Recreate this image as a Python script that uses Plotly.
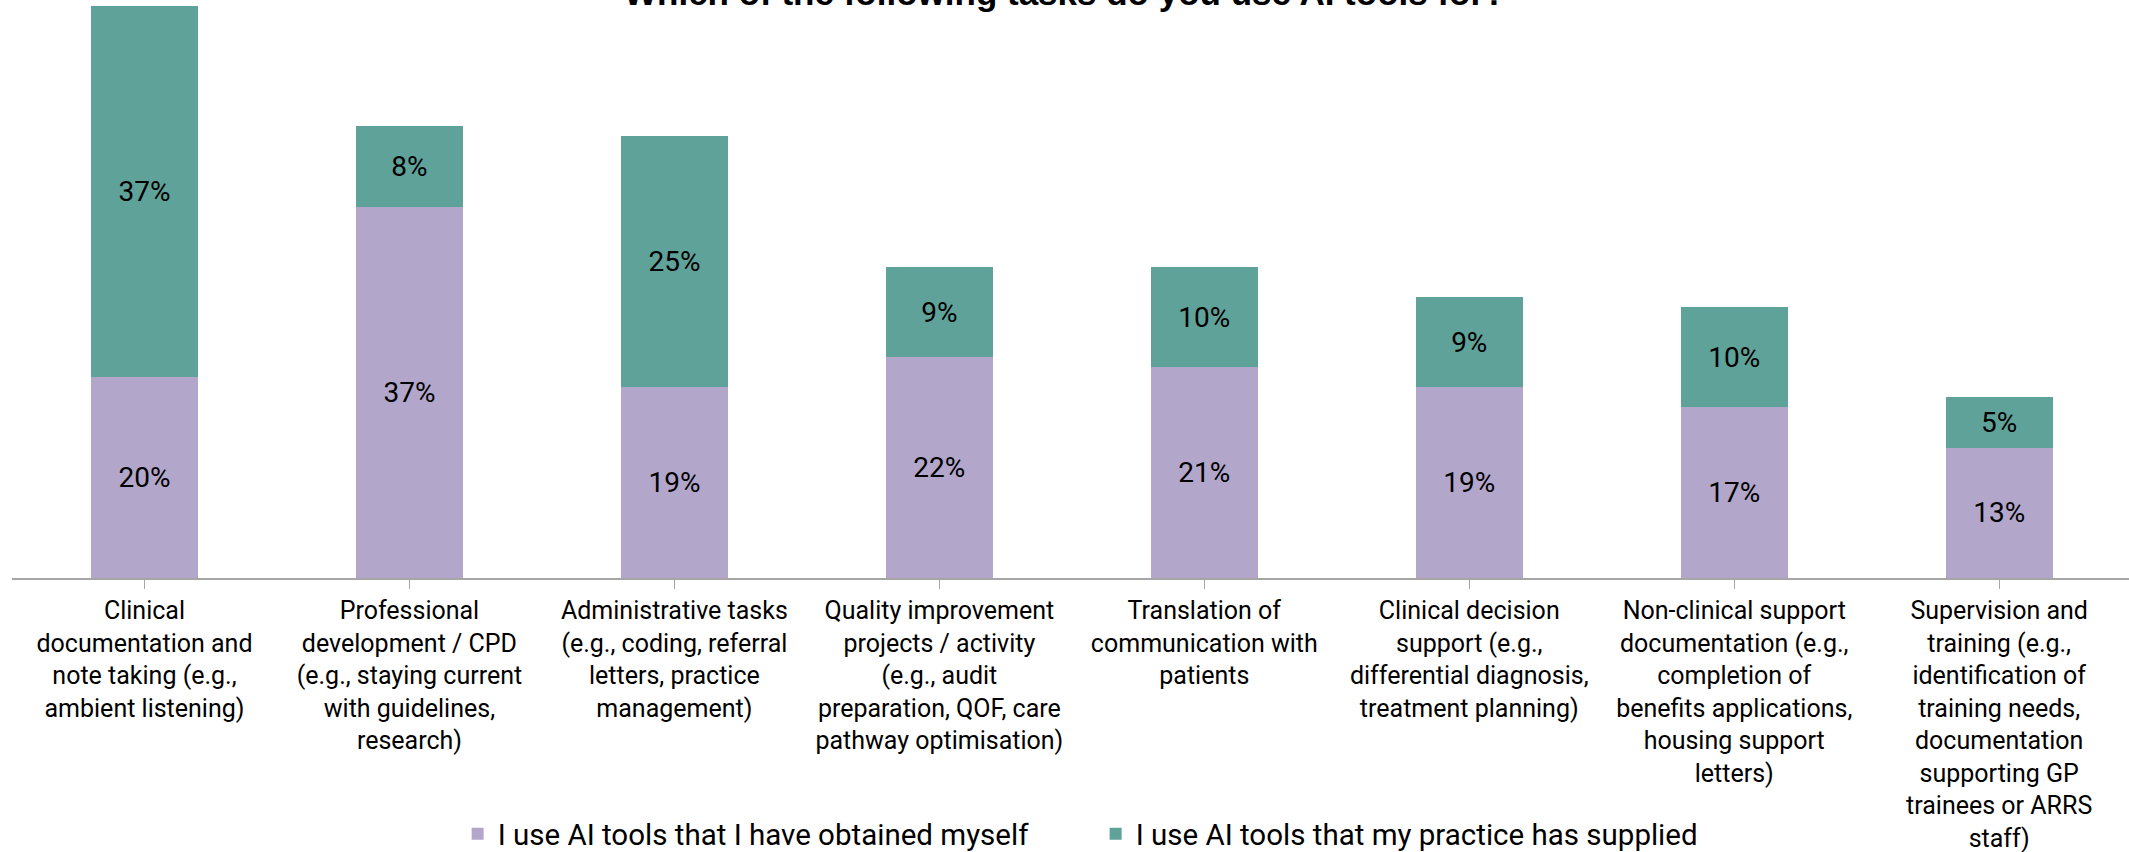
import plotly.graph_objects as go

categories = [
    "Clinical<br>documentation and<br>note taking (e.g.,<br>ambient listening)",
    "Professional<br>development / CPD<br>(e.g., staying current<br>with guidelines,<br>research)",
    "Administrative tasks<br>(e.g., coding, referral<br>letters, practice<br>management)",
    "Quality improvement<br>projects / activity<br>(e.g., audit<br>preparation, QOF, care<br>pathway optimisation)",
    "Translation of<br>communication with<br>patients",
    "Clinical decision<br>support (e.g.,<br>differential diagnosis,<br>treatment planning)",
    "Non-clinical support<br>documentation (e.g.,<br>completion of<br>benefits applications,<br>housing support<br>letters)",
    "Supervision and<br>training (e.g.,<br>identification of<br>training needs,<br>documentation<br>supporting GP<br>trainees or ARRS<br>staff)",
]
obtained_myself = [20, 37, 19, 22, 21, 19, 17, 13]
practice_supplied = [37, 8, 25, 9, 10, 9, 10, 5]
series_names = ["I use AI tools that I have obtained myself",
                "I use AI tools that my practice has supplied"]
title_text = "Which of the following tasks do you use AI tools for?"

PURPLE = "#B2A7CB"
TEAL = "#5FA29A"
FONT = "Roboto"

fig = go.Figure()
for name, vals, col in [(series_names[0], obtained_myself, PURPLE),
                        (series_names[1], practice_supplied, TEAL)]:
    fig.add_trace(go.Bar(
        x=list(range(len(categories))), y=vals, name=name,
        marker=dict(color=col, line=dict(width=0)),
        text=[f"{v}%" for v in vals], textposition="inside",
        insidetextanchor="middle", textangle=0, constraintext="none",
        textfont=dict(family=FONT, size=28, color="#000000"),
        width=0.404, hoverinfo="skip",
    ))

fig.update_layout(
    width=2129, height=852,
    barmode="stack",
    paper_bgcolor="white", plot_bgcolor="white",
    margin=dict(l=12, r=0, t=0, b=274, autoexpand=False),
    font=dict(family=FONT, color="#000000"),
    showlegend=True,
    legend=dict(orientation="h", x=0.2105, xanchor="left", y=-0.443, yanchor="middle",
                font=dict(family=FONT, size=29.5, color="#000000"),
                entrywidth=593, entrywidthmode="pixels", traceorder="normal"),
)
fig.update_xaxes(
    tickmode="array", tickvals=list(range(len(categories))), ticktext=categories,
    range=[-0.5, 7.49], showline=True, linecolor="#A6A6A6", linewidth=2,
    ticks="outside", tickson="boundaries", ticklen=9, tickcolor="#A6A6A6", tickwidth=1,
    tickfont=dict(family=FONT, size=25, color="#000000"), tickangle=0,
    showgrid=False, zeroline=False, fixedrange=True, automargin=False,
)
fig.update_yaxes(range=[0, 57.6], visible=False, showgrid=False, zeroline=False,
                 automargin=False, fixedrange=True)

fig.add_annotation(
    text=f"<b>{title_text}</b>", xref="paper", yref="paper", x=0.497, y=1,
    xanchor="center", yanchor="bottom", yshift=-14, showarrow=False,
    font=dict(family="Liberation Sans", size=35, color="#000000"),
)

fig.write_html(
    "out.html",
    config={"displayModeBar": False},
    post_script="document.body.style.margin='0';document.body.style.overflow='hidden';",
)
